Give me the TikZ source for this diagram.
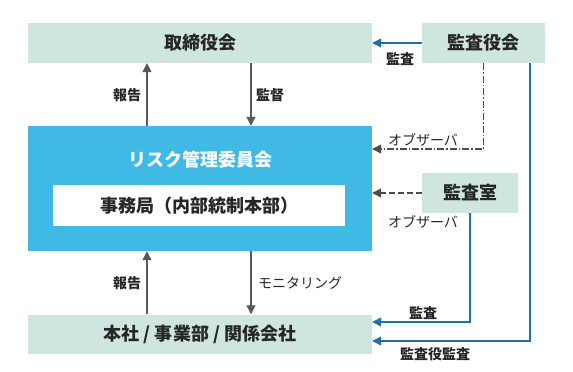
\documentclass[tikz,border=0pt]{standalone}
\usepackage{fontspec}
\setmainfont{Noto Sans CJK JP}
\usetikzlibrary{arrows.meta,positioning}

\definecolor{boxteal}{HTML}{CFE6E0}
\definecolor{riskblue}{HTML}{40B9E5}
\definecolor{auditblue}{HTML}{1F6FB2}
\definecolor{flowgray}{HTML}{595959}

\tikzset{
    orgbox/.style={fill=boxteal, inner sep=0pt, text=black!85, font=\bfseries\fontsize{18}{20}\selectfont},
    flowarrow/.style={draw=flowgray, line width=1.2pt, -{Triangle[length=9pt,width=9pt]}},
    auditarrow/.style={draw=auditblue, line width=1.2pt, -{Triangle[length=9pt,width=9pt]}},
    observer/.style={draw=black!70, line width=1.1pt, -{Triangle[length=9pt,width=9pt]}},
    lbl/.style={inner sep=0pt, text=black!85, font=\bfseries\fontsize{14}{16}\selectfont},
    kanalbl/.style={inner sep=0pt, text=black!85, font=\fontsize{14}{16}\selectfont}
}

\begin{document}
\begin{tikzpicture}[x=1pt, y=-1pt]
    \useasboundingbox (0,0) rectangle (573,372);

    % Boxes
    \node[orgbox, minimum width=344pt, minimum height=40pt] (board) at (200,43) {取締役会};
    \node[orgbox, minimum width=123pt, minimum height=40pt] (auditboard) at (483.5,43) {監査役会};
    \node[fill=riskblue, inner sep=0pt, minimum width=344pt, minimum height=125pt] (risk) at (200,188.5) {};
    \node[text=white, font=\bfseries\fontsize{18}{20}\selectfont, inner sep=0pt] (risktitle) at (200,160) {リスク管理委員会};
    \node[orgbox, fill=white, minimum width=292pt, minimum height=41pt] (office) at (199,205.5) {事務局（内部統制本部）};
    \node[orgbox, minimum width=96pt, minimum height=40pt] (auditoffice) at (470,193) {監査室};
    \node[orgbox, minimum width=344pt, minimum height=39pt] (hq) at (200,334) {本社 / 事業部 / 関係会社};

    % Reporting and supervision
    \draw[flowarrow] ([xshift=-53pt]risk.north) -- ([xshift=-53pt]board.south);
    \draw[flowarrow] ([xshift=51pt]board.south) -- ([xshift=51pt]risk.north);
    \draw[flowarrow] ([xshift=-53pt]hq.north) -- ([xshift=-53pt]risk.south);
    \draw[flowarrow] ([xshift=51pt]risk.south) -- ([xshift=51pt]hq.north);

    % Observers
    \draw[observer, dash pattern=on 7pt off 2pt on 1.5pt off 2pt]
        (auditboard.south) |- ([yshift=39.5pt]risk.east);
    \draw[observer, dash pattern=on 6pt off 3pt]
        (auditoffice.west) -- (risk.east |- auditoffice.west);

    % Audits
    \draw[auditarrow] (auditboard.west) -- (board.east);
    \draw[auditarrow] (auditoffice.south) |- ([yshift=12pt]hq.east);
    \draw[auditarrow] ([xshift=46.5pt]auditboard.south) |- ([yshift=-7pt]hq.east);

    % Labels
    \node[lbl] (report1) at (127,95) {報告};
    \node[lbl] (supervise) at (270,95) {監督};
    \node[lbl] (report2) at (127,283) {報告};
    \node[kanalbl] (monitor) at (300,283) {モニタリング};
    \node[lbl] (audit1) at (400,59) {監査};
    \node[kanalbl] (observer1) at (423,140) {オブザーバ};
    \node[kanalbl] (observer2) at (423,222) {オブザーバ};
    \node[lbl] (audit2) at (423,313) {監査};
    \node[lbl] (audit3) at (435,354) {監査役監査};
\end{tikzpicture}
\end{document}
